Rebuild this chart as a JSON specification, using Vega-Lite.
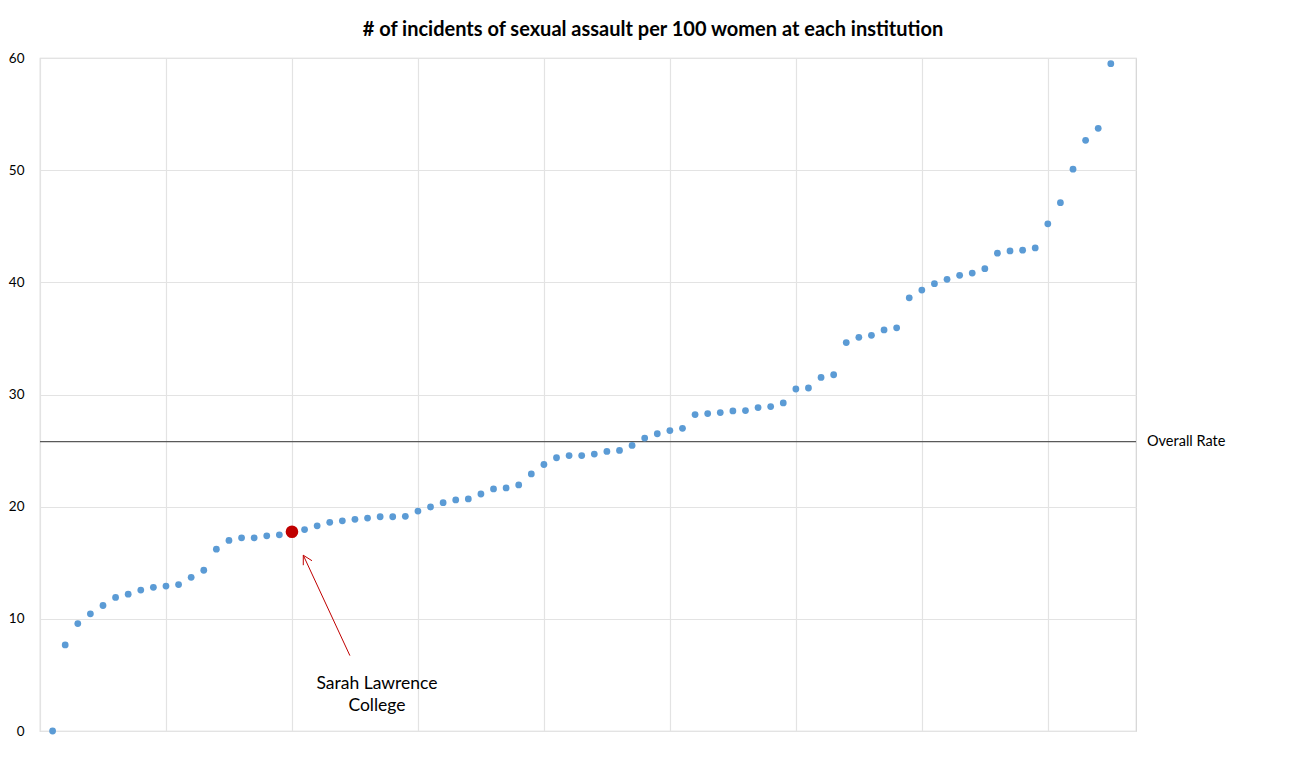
{
  "$schema": "https://vega.github.io/schema/vega-lite/v6.json",
  "autosize": "none",
  "width": 1096,
  "height": 673,
  "padding": {"left": 40, "top": 58, "right": 164, "bottom": 43},
  "background": "white",
  "config": {
    "font": "Lato",
    "view": {"stroke": "#d4d4d4", "strokeWidth": 1.2}
  },
  "title": {
    "text": "# of incidents of sexual assault per 100 women at each institution",
    "font": "Lato",
    "fontSize": 20,
    "fontWeight": "bold",
    "color": "#000000",
    "anchor": "middle",
    "dx": 65,
    "offset": 11
  },
  "datasets": {
    "schools": [
      {"rank": 1, "rate": 0, "school": "other"},
      {"rank": 2, "rate": 7.67, "school": "other"},
      {"rank": 3, "rate": 9.58, "school": "other"},
      {"rank": 4, "rate": 10.45, "school": "other"},
      {"rank": 5, "rate": 11.19, "school": "other"},
      {"rank": 6, "rate": 11.91, "school": "other"},
      {"rank": 7, "rate": 12.2, "school": "other"},
      {"rank": 8, "rate": 12.56, "school": "other"},
      {"rank": 9, "rate": 12.81, "school": "other"},
      {"rank": 10, "rate": 12.92, "school": "other"},
      {"rank": 11, "rate": 13.05, "school": "other"},
      {"rank": 12, "rate": 13.7, "school": "other"},
      {"rank": 13, "rate": 14.33, "school": "other"},
      {"rank": 14, "rate": 16.21, "school": "other"},
      {"rank": 15, "rate": 16.99, "school": "other"},
      {"rank": 16, "rate": 17.22, "school": "other"},
      {"rank": 17, "rate": 17.22, "school": "other"},
      {"rank": 18, "rate": 17.4, "school": "other"},
      {"rank": 19, "rate": 17.49, "school": "other"},
      {"rank": 20, "rate": 17.76, "school": "Sarah Lawrence College"},
      {"rank": 21, "rate": 17.96, "school": "other"},
      {"rank": 22, "rate": 18.29, "school": "other"},
      {"rank": 23, "rate": 18.6, "school": "other"},
      {"rank": 24, "rate": 18.74, "school": "other"},
      {"rank": 25, "rate": 18.87, "school": "other"},
      {"rank": 26, "rate": 18.98, "school": "other"},
      {"rank": 27, "rate": 19.1, "school": "other"},
      {"rank": 28, "rate": 19.1, "school": "other"},
      {"rank": 29, "rate": 19.14, "school": "other"},
      {"rank": 30, "rate": 19.61, "school": "other"},
      {"rank": 31, "rate": 19.97, "school": "other"},
      {"rank": 32, "rate": 20.36, "school": "other"},
      {"rank": 33, "rate": 20.6, "school": "other"},
      {"rank": 34, "rate": 20.69, "school": "other"},
      {"rank": 35, "rate": 21.13, "school": "other"},
      {"rank": 36, "rate": 21.58, "school": "other"},
      {"rank": 37, "rate": 21.67, "school": "other"},
      {"rank": 38, "rate": 21.94, "school": "other"},
      {"rank": 39, "rate": 22.92, "school": "other"},
      {"rank": 40, "rate": 23.76, "school": "other"},
      {"rank": 41, "rate": 24.36, "school": "other"},
      {"rank": 42, "rate": 24.56, "school": "other"},
      {"rank": 43, "rate": 24.56, "school": "other"},
      {"rank": 44, "rate": 24.69, "school": "other"},
      {"rank": 45, "rate": 24.92, "school": "other"},
      {"rank": 46, "rate": 25.01, "school": "other"},
      {"rank": 47, "rate": 25.46, "school": "other"},
      {"rank": 48, "rate": 26.12, "school": "other"},
      {"rank": 49, "rate": 26.5, "school": "other"},
      {"rank": 50, "rate": 26.78, "school": "other"},
      {"rank": 51, "rate": 26.98, "school": "other"},
      {"rank": 52, "rate": 28.21, "school": "other"},
      {"rank": 53, "rate": 28.3, "school": "other"},
      {"rank": 54, "rate": 28.39, "school": "other"},
      {"rank": 55, "rate": 28.54, "school": "other"},
      {"rank": 56, "rate": 28.57, "school": "other"},
      {"rank": 57, "rate": 28.83, "school": "other"},
      {"rank": 58, "rate": 28.92, "school": "other"},
      {"rank": 59, "rate": 29.25, "school": "other"},
      {"rank": 60, "rate": 30.49, "school": "other"},
      {"rank": 61, "rate": 30.58, "school": "other"},
      {"rank": 62, "rate": 31.52, "school": "other"},
      {"rank": 63, "rate": 31.76, "school": "other"},
      {"rank": 64, "rate": 34.63, "school": "other"},
      {"rank": 65, "rate": 35.1, "school": "other"},
      {"rank": 66, "rate": 35.28, "school": "other"},
      {"rank": 67, "rate": 35.76, "school": "other"},
      {"rank": 68, "rate": 35.94, "school": "other"},
      {"rank": 69, "rate": 38.62, "school": "other"},
      {"rank": 70, "rate": 39.31, "school": "other"},
      {"rank": 71, "rate": 39.88, "school": "other"},
      {"rank": 72, "rate": 40.27, "school": "other"},
      {"rank": 73, "rate": 40.63, "school": "other"},
      {"rank": 74, "rate": 40.83, "school": "other"},
      {"rank": 75, "rate": 41.22, "school": "other"},
      {"rank": 76, "rate": 42.6, "school": "other"},
      {"rank": 77, "rate": 42.8, "school": "other"},
      {"rank": 78, "rate": 42.87, "school": "other"},
      {"rank": 79, "rate": 43.07, "school": "other"},
      {"rank": 80, "rate": 45.22, "school": "other"},
      {"rank": 81, "rate": 47.1, "school": "other"},
      {"rank": 82, "rate": 50.09, "school": "other"},
      {"rank": 83, "rate": 52.66, "school": "other"},
      {"rank": 84, "rate": 53.73, "school": "other"},
      {"rank": 85, "rate": 59.49, "school": "other"}
    ],
    "overall": [{"rate": 25.8, "label": "Overall Rate", "rank": 87}],
    "arrow": [
      {"x1": 24.6, "y1": 6.72, "x2": 20.9, "y2": 15.67},
      {"x1": 20.9, "y1": 15.67, "x2": 20.9, "y2": 14.78},
      {"x1": 20.9, "y1": 15.67, "x2": 21.59, "y2": 15.18}
    ],
    "callout": [{"rank": 26.75, "rate": 4.15, "label": "Sarah Lawrence\nCollege"}]
  },
  "layer": [
    {
      "data": {"name": "overall"},
      "mark": {"type": "rule", "color": "#595959", "strokeWidth": 1.2},
      "encoding": {
        "y": {
          "field": "rate",
          "type": "quantitative",
          "scale": {"domain": [0, 60], "nice": false},
          "axis": {
            "values": [0, 10, 20, 30, 40, 50, 60],
            "title": null,
            "domain": false,
            "ticks": false,
            "tickSize": 0,
            "labelPadding": 16,
            "labelFont": "Lato",
            "labelFontSize": 13.5,
            "labelColor": "#000000",
            "gridColor": "#e3e3e3",
            "gridWidth": 1.2
          }
        }
      }
    },
    {
      "data": {"name": "overall"},
      "mark": {"type": "text", "align": "left", "baseline": "middle", "dx": 11, "fontSize": 14.5, "font": "Lato", "color": "#000000"},
      "encoding": {
        "x": {"field": "rank", "type": "quantitative"},
        "y": {"field": "rate", "type": "quantitative"},
        "text": {"field": "label"}
      }
    },
    {
      "data": {"name": "schools"},
      "transform": [{"filter": "datum.school === 'other'"}],
      "mark": {"type": "circle", "color": "#5B9BD5", "opacity": 1, "size": 46},
      "encoding": {
        "x": {
          "field": "rank",
          "type": "quantitative",
          "scale": {"domain": [0, 87], "nice": false, "zero": true},
          "axis": {
            "values": [0, 10, 20, 30, 40, 50, 60, 70, 80],
            "title": null,
            "labels": false,
            "ticks": false,
            "domain": false,
            "gridColor": "#e3e3e3",
            "gridWidth": 1.2
          }
        },
        "y": {"field": "rate", "type": "quantitative"}
      }
    },
    {
      "data": {"name": "schools"},
      "transform": [{"filter": "datum.school !== 'other'"}],
      "mark": {"type": "circle", "color": "#C00000", "opacity": 1, "size": 160},
      "encoding": {
        "x": {"field": "rank", "type": "quantitative"},
        "y": {"field": "rate", "type": "quantitative"}
      }
    },
    {
      "data": {"name": "arrow"},
      "mark": {"type": "rule", "color": "#C00000", "strokeWidth": 1},
      "encoding": {
        "x": {"field": "x1", "type": "quantitative"},
        "y": {"field": "y1", "type": "quantitative"},
        "x2": {"field": "x2"},
        "y2": {"field": "y2"}
      }
    },
    {
      "data": {"name": "callout"},
      "mark": {"type": "text", "align": "center", "baseline": "middle", "lineBreak": "\n", "lineHeight": 22, "fontSize": 17.5, "font": "Lato", "color": "#000000"},
      "encoding": {
        "x": {"field": "rank", "type": "quantitative"},
        "y": {"field": "rate", "type": "quantitative"},
        "text": {"field": "label"}
      }
    }
  ]
}
